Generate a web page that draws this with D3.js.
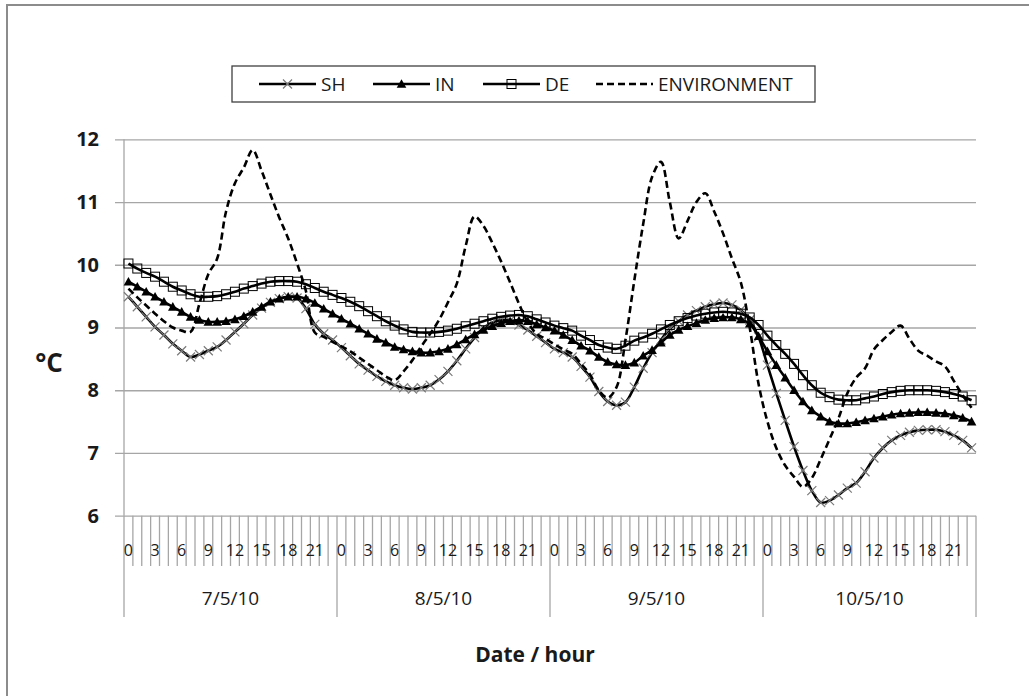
<!DOCTYPE html>
<html><head><meta charset="utf-8">
<script src="https://cdn.jsdelivr.net/npm/d3@7"></script>
<style>
body{margin:0;background:#fff}
svg{display:block}
text{font-family:"Open Sans","Liberation Sans",sans-serif;fill:#1a1a1a}
</style>
</head><body>
<svg id="chart" width="1029" height="696"></svg>
<script>
// ---- data ----
const days = ["7/5/10", "8/5/10", "9/5/10", "10/5/10"];
const hours = [0,1,2,3,4,5,6,7,8,9,10,11,12,13,14,15,16,17,18,19,20,21,22,23];
const hourLabels = ["0","3","6","9","12","15","18","21"];
const yTicks = [6, 7, 8, 9, 10, 11, 12];
const seriesNames = ["SH", "IN", "DE", "ENVIRONMENT"];

const sh = [
  9.49, 9.33, 9.17, 9.01, 8.88, 8.74, 8.63, 8.53, 8.57, 8.63, 8.69, 8.80, 8.93, 9.06, 9.20, 9.31, 9.40, 9.46, 9.49, 9.47, 9.30, 9.05, 8.90, 8.80,
  8.68, 8.55, 8.42, 8.32, 8.22, 8.14, 8.08, 8.04, 8.02, 8.04, 8.08, 8.17, 8.30, 8.47, 8.66, 8.84, 8.99, 9.08, 9.12, 9.11, 9.04, 8.96, 8.86, 8.76,
  8.66, 8.60, 8.53, 8.38, 8.21, 7.98, 7.82, 7.76, 7.81, 8.05, 8.35, 8.60, 8.80, 8.98, 9.10, 9.20, 9.27, 9.33, 9.37, 9.39, 9.36, 9.28, 9.12, 8.85,
  8.40, 7.95, 7.52, 7.10, 6.72, 6.40, 6.21, 6.24, 6.33, 6.44, 6.52, 6.70, 6.92, 7.08, 7.20, 7.28, 7.33, 7.36, 7.37, 7.37, 7.34, 7.28, 7.20, 7.08
];
const inn = [
  9.73, 9.65, 9.57, 9.49, 9.41, 9.33, 9.25, 9.17, 9.12, 9.09, 9.09, 9.10, 9.13, 9.18, 9.25, 9.33, 9.41, 9.46, 9.49, 9.49, 9.46, 9.39, 9.30, 9.22,
  9.14, 9.06, 8.98, 8.90, 8.82, 8.76, 8.69, 8.65, 8.62, 8.60, 8.60, 8.62, 8.66, 8.73, 8.81, 8.89, 8.96, 9.02, 9.07, 9.10, 9.11, 9.10, 9.05, 9.00,
  8.95, 8.88, 8.80, 8.71, 8.63, 8.53, 8.45, 8.41, 8.40, 8.44, 8.55, 8.64, 8.76, 8.88, 8.96, 9.02, 9.07, 9.12, 9.15, 9.16, 9.16, 9.13, 9.06, 8.86,
  8.62, 8.40, 8.20, 8.00, 7.82, 7.68, 7.58, 7.50, 7.47, 7.47, 7.49, 7.52, 7.55, 7.58, 7.61, 7.63, 7.64, 7.65, 7.65, 7.64, 7.63, 7.60, 7.56, 7.50
];
const de = [
  10.02, 9.94, 9.87, 9.81, 9.73, 9.65, 9.59, 9.53, 9.49, 9.49, 9.50, 9.53, 9.57, 9.62, 9.66, 9.70, 9.73, 9.74, 9.74, 9.73, 9.69, 9.63, 9.57, 9.52,
  9.47, 9.41, 9.34, 9.26, 9.18, 9.10, 9.03, 8.97, 8.93, 8.92, 8.92, 8.93, 8.95, 8.98, 9.02, 9.06, 9.10, 9.14, 9.17, 9.19, 9.20, 9.18, 9.13, 9.08,
  9.03, 8.99, 8.95, 8.87, 8.80, 8.72, 8.68, 8.66, 8.71, 8.79, 8.84, 8.90, 8.97, 9.04, 9.10, 9.15, 9.19, 9.22, 9.24, 9.25, 9.24, 9.22, 9.16, 9.04,
  8.87, 8.72, 8.58, 8.42, 8.24, 8.08, 7.96, 7.89, 7.85, 7.84, 7.84, 7.87, 7.90, 7.94, 7.97, 7.99, 8.00, 8.00, 8.00, 7.99, 7.97, 7.94, 7.90, 7.84
];
const env = [
  9.62, 9.48, 9.35, 9.22, 9.10, 9.00, 8.95, 8.93, 9.38, 9.85, 10.10, 10.85, 11.30, 11.55, 11.83, 11.50, 11.12, 10.75, 10.42, 10.02, 9.58, 8.92, 8.85, 8.77,
  8.70, 8.62, 8.52, 8.42, 8.32, 8.22, 8.16, 8.30, 8.48, 8.70, 8.90, 9.12, 9.40, 9.70, 10.30, 10.77, 10.62, 10.35, 10.05, 9.72, 9.38, 9.08, 8.90, 8.82,
  8.73, 8.65, 8.58, 8.42, 8.25, 8.00, 7.88, 8.05, 8.80, 9.75, 10.65, 11.40, 11.64, 11.00, 10.42, 10.70, 11.00, 11.14, 10.85, 10.50, 10.10, 9.72, 9.00, 8.10,
  7.50, 7.08, 6.80, 6.62, 6.46, 6.60, 6.90, 7.22, 7.55, 7.95, 8.20, 8.35, 8.65, 8.80, 8.93, 9.03, 8.82, 8.63, 8.55, 8.46, 8.38, 8.15, 7.92, 7.72
];

// ---- layout ----
const svg = d3.select("#chart");
const W = 1029, H = 696;
const plot = {left: 124, right: 976, top: 139.3, bottom: 515.7};
const gridColor = "#a6a6a6";

const categories = [];
days.forEach((d, di) => hours.forEach(h => categories.push({day: d, di, hour: h})));

const x = d3.scaleBand().domain(d3.range(categories.length)).range([plot.left, plot.right]).padding(0);
const bw = x.bandwidth();
const cx = i => x(i) + bw / 2;
const y = d3.scaleLinear().domain([6, 12]).range([plot.bottom, plot.top]);

svg.append("rect").attr("width", W).attr("height", H).attr("fill", "#fff");
// outer chart border (top & left visible)
svg.append("rect").attr("x", 7).attr("y", 5).attr("width", W + 20).attr("height", H + 20)
  .attr("fill", "none").attr("stroke", "#8c8c8c").attr("stroke-width", 2);

// gridlines + y ticks
const yAxis = d3.axisLeft(y).tickValues(yTicks).tickSize(-(plot.right - plot.left)).tickPadding(16).tickFormat(d3.format("d"));
const gy = svg.append("g").attr("transform", `translate(${plot.left},0)`).call(yAxis);
gy.select(".domain").remove();
gy.selectAll(".tick line").attr("stroke", gridColor).attr("stroke-width", 1.3).attr("x1", -9);
gy.selectAll(".tick text").attr("font-size", 20).attr("font-weight", "bold").attr("fill", "#1a1a1a")
  .attr("font-family", "'Open Sans', sans-serif").attr("x", -25);
svg.append("line").attr("x1", plot.left).attr("x2", plot.left).attr("y1", plot.top).attr("y2", plot.bottom)
  .attr("stroke", gridColor).attr("stroke-width", 1.3);

// x axis category ticks
const gx = svg.append("g");
d3.range(categories.length + 1).forEach(i => {
  const xx = plot.left + i * bw;
  const isDay = i % hours.length === 0;
  gx.append("line").attr("x1", xx).attr("x2", xx).attr("y1", plot.bottom).attr("y2", isDay ? 617 : 566)
    .attr("stroke", gridColor).attr("stroke-width", 1.3);
});
gx.selectAll("text.hr").data(categories.filter(c => hourLabels.includes(String(c.hour))))
  .join("text").attr("class", "hr")
  .attr("x", c => cx(c.di * hours.length + c.hour)).attr("y", 556)
  .attr("text-anchor", "middle").attr("font-size", 16).text(c => String(c.hour));
gx.selectAll("text.day").data(days).join("text").attr("class", "day")
  .attr("x", (d, i) => (x(i * hours.length) + x((i + 1) * hours.length - 1) + bw) / 2).attr("y", 605)
  .attr("text-anchor", "middle").attr("font-size", 19).text(d => d);

// axis titles
svg.append("text").attr("x", 535).attr("y", 662).attr("text-anchor", "middle")
  .attr("font-size", 21).attr("font-weight", "bold").text("Date / hour");
svg.append("text").attr("x", 49).attr("y", 372).attr("text-anchor", "middle")
  .attr("font-size", 26).attr("font-weight", "bold").text("°C");

// ---- series ----
const line = d3.line().x((d, i) => cx(i)).y(d => y(d)).curve(d3.curveCatmullRom.alpha(0.5));

function xMarker(g, px, py, s) {
  g.append("path").attr("d", `M${px - s},${py - s}L${px + s},${py + s}M${px - s},${py + s}L${px + s},${py - s}`)
    .attr("stroke", "#7a7a7a").attr("stroke-width", 1.2).attr("fill", "none");
}
function triMarker(g, px, py, s) {
  g.append("path").attr("d", `M${px},${py - s}L${px + s},${py + s * 0.8}L${px - s},${py + s * 0.8}Z`).attr("fill", "#000");
}
function sqMarker(g, px, py, s) {
  g.append("rect").attr("x", px - s).attr("y", py - s).attr("width", 2 * s).attr("height", 2 * s)
    .attr("fill", "none").attr("stroke", "#000").attr("stroke-width", 1);
}

const series = [
  {name: seriesNames[0], values: sh, marker: xMarker, ms: 4.5, dash: null},
  {name: seriesNames[1], values: inn, marker: triMarker, ms: 4.8, dash: null},
  {name: seriesNames[2], values: de, marker: sqMarker, ms: 4.5, dash: null},
  {name: seriesNames[3], values: env, marker: null, ms: 0, dash: "7,4"}
];

series.forEach(s => {
  const g = svg.append("g");
  g.append("path").attr("d", line(s.values)).attr("fill", "none").attr("stroke", "#000")
    .attr("stroke-width", 2.6).attr("stroke-dasharray", s.dash);
  if (s.marker) s.values.forEach((v, i) => s.marker(g, cx(i), y(v), s.ms));
});

// ---- legend ----
const lg = svg.append("g");
lg.append("rect").attr("x", 232).attr("y", 66).attr("width", 583).attr("height", 36)
  .attr("fill", "#fff").attr("stroke", "#404040").attr("stroke-width", 1.3);
const legendX = [259, 373, 483, 596];
series.forEach((s, k) => {
  const x0 = legendX[k], ly = 84;
  lg.append("line").attr("x1", x0).attr("x2", x0 + 57).attr("y1", ly).attr("y2", ly)
    .attr("stroke", "#000").attr("stroke-width", 2.6).attr("stroke-dasharray", s.dash);
  if (s.marker) s.marker(lg, x0 + 28.5, ly, s.ms);
  lg.append("text").attr("x", x0 + 62).attr("y", ly + 7).attr("font-size", 19).text(s.name);
});
</script>
</body></html>
